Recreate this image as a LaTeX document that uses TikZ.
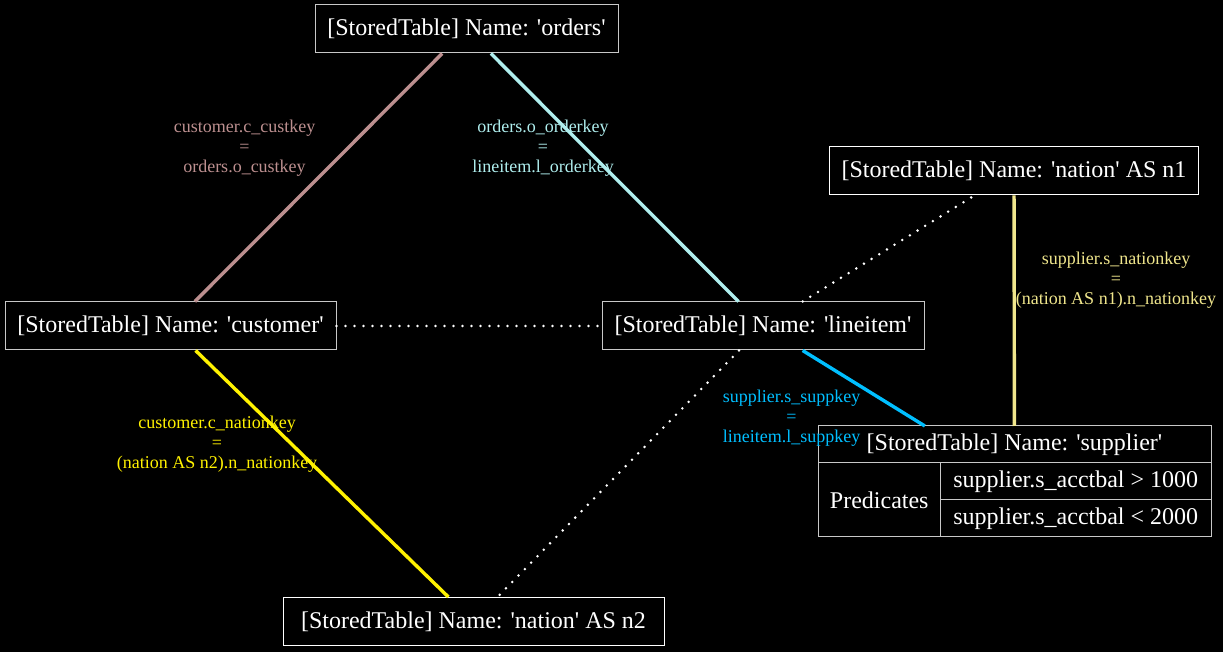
\documentclass[tikz,border=0pt]{standalone}
\usepackage{fontspec}
\setmainfont{Liberation Serif}
\usepackage{tikz}
\definecolor{rosybrown}{RGB}{188,143,143}
\definecolor{paleturquoise}{RGB}{175,238,238}
\definecolor{khaki}{RGB}{240,230,140}
\definecolor{deepskyblue}{RGB}{0,191,255}
\definecolor{boxgray}{RGB}{200,200,200}
\newcommand{\q}{\textquotesingle}
\begin{document}
\begin{tikzpicture}[x=0.5pt,y=-0.5pt]
  \tikzstyle{tbl}=[draw=boxgray, line width=0.5pt, fill=black, text=white, minimum height=24pt, inner xsep=6pt, font=\fontsize{12}{14}\selectfont]
  \tikzstyle{cell}=[tbl, outer sep=0pt, inner sep=0pt]
  \tikzstyle{keyjoin}=[line width=1.7pt]
  \tikzstyle{cross}=[white, line width=1.4pt, line cap=round, dash pattern=on 0pt off 4.5pt]
  \tikzstyle{lbl}=[align=center, font=\fontsize{9}{10}\selectfont]
  \fill[black] (0,0) rectangle (1223,652);
  \useasboundingbox (0,0) rectangle (1223,652);

  \node[tbl, minimum width=151.5pt] (orders) at (466.5,29) {[StoredTable] Name: \q orders\q};
  \node[tbl, minimum width=165.5pt] (customer) at (170.5,326) {[StoredTable] Name: \q customer\q};
  \node[tbl, minimum width=161pt] (lineitem) at (763,326) {[StoredTable] Name: \q lineitem\q};
  \node[tbl, draw=white, minimum width=184pt] (nationa) at (1014,171) {[StoredTable] Name: \q nation\q{} AS n1};
  \node[tbl, draw=white, minimum width=190.5pt] (nationb) at (473.5,621.5) {[StoredTable] Name: \q nation\q{} AS n2};

  \node[cell, minimum width=196.5pt, minimum height=55.5pt] (supplier) at (1014.5,481.5) {};
  \node[cell, anchor=north, minimum width=196.5pt, minimum height=18.5pt] (suptitle) at (supplier.north) {[StoredTable] Name: \q supplier\q};
  \node[cell, anchor=north west, minimum width=61.25pt, minimum height=37pt] (pred) at (suptitle.south west) {Predicates};
  \node[cell, anchor=north west, minimum width=135.25pt, minimum height=18.5pt] (preda) at (pred.north east) {supplier.s\_acctbal > 1000};
  \node[cell, anchor=north west, minimum width=135.25pt, minimum height=18.5pt] (predb) at (preda.south west) {supplier.s\_acctbal < 2000};

  \draw[keyjoin, rosybrown] (orders) -- (customer);
  \draw[keyjoin, paleturquoise] (orders) -- (lineitem);
  \draw[keyjoin, khaki] (nationa) -- (supplier);
  \draw[keyjoin, deepskyblue] (lineitem) -- (supplier);
  \draw[keyjoin, yellow] (customer) -- (nationb);
  \draw[cross] (customer) -- (lineitem);
  \draw[cross] (lineitem) -- (nationa);
  \draw[cross] (lineitem) -- (nationb);

  \node[lbl, text=rosybrown] (lblcust) at (244.5,148) {customer.c\_custkey\\=\\orders.o\_custkey};
  \node[lbl, text=paleturquoise] (lblord) at (543,148) {orders.o\_orderkey\\=\\lineitem.l\_orderkey};
  \node[lbl, text=khaki] (lblnata) at (1116,280) {supplier.s\_nationkey\\=\\(nation AS n1).n\_nationkey};
  \node[lbl, text=deepskyblue] (lblsupp) at (791.5,418) {supplier.s\_suppkey\\=\\lineitem.l\_suppkey};
  \node[lbl, text=yellow] (lblnatb) at (217,444) {customer.c\_nationkey\\=\\(nation AS n2).n\_nationkey};
\end{tikzpicture}
\end{document}
